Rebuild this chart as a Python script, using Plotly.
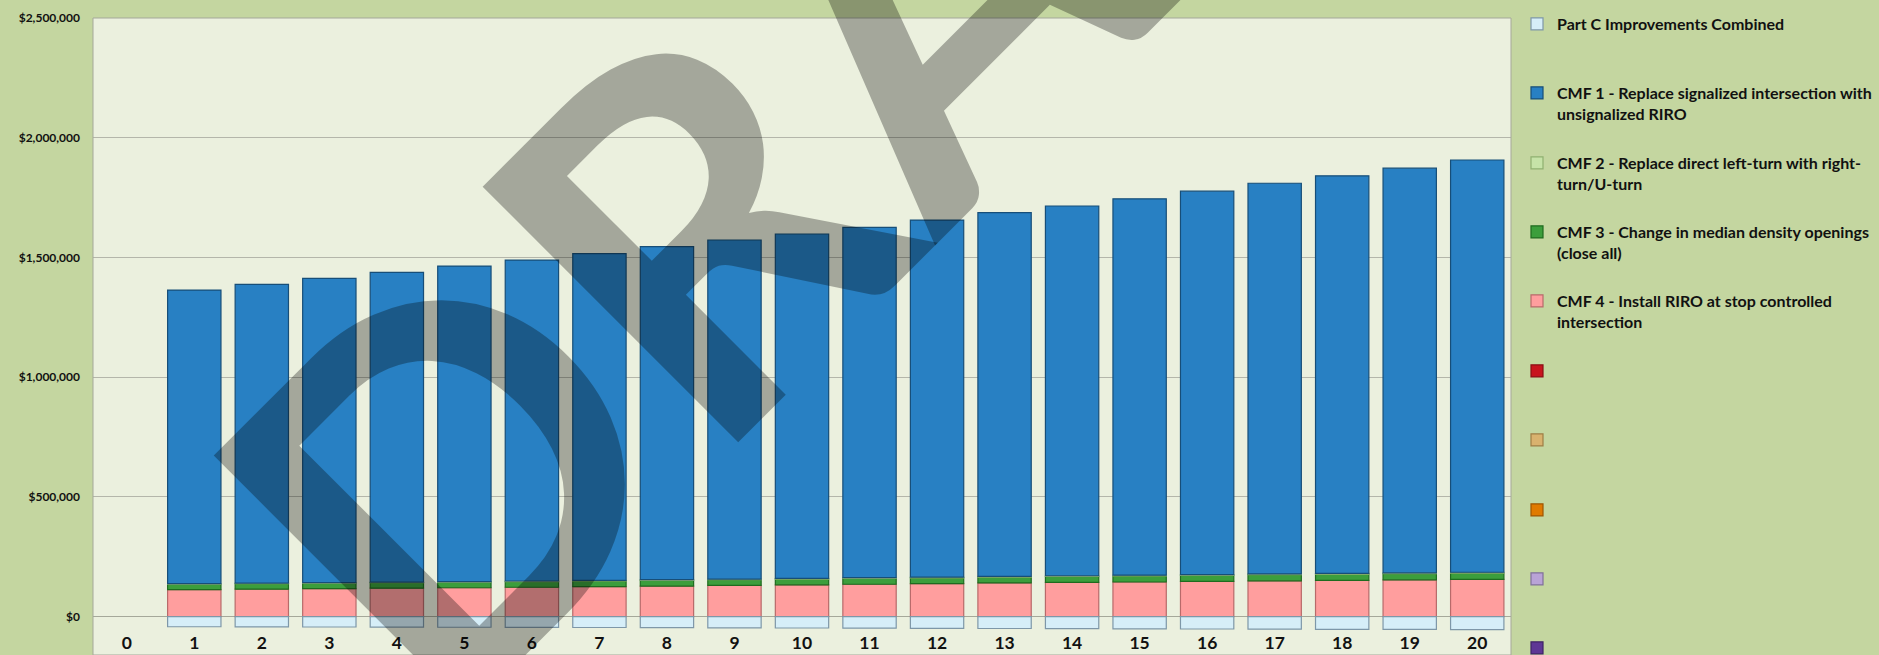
import plotly.graph_objects as go

# Analysis years and per-improvement annual benefit values ($)
years = list(range(1, 21))
year_ticks = list(range(0, 21))

part_c_combined = [-42000, -42500, -43000, -43500, -44000, -44500, -45000, -45800, -46500, -47200,
                   -47900, -48600, -49300, -50000, -50700, -51400, -52000, -52600, -53200, -53800]
cmf1_riro_signal = [1225900, 1247750, 1270500, 1293250, 1317100, 1339850, 1364100, 1390350, 1415700, 1437950,
                    1463200, 1490450, 1518200, 1543950, 1571700, 1600950, 1631200, 1659950, 1689700, 1721400]
cmf2_left_turn = [2600, 2650, 2700, 2750, 2800, 2850, 2900, 2950, 3000, 3050,
                  3100, 3150, 3200, 3250, 3300, 3350, 3400, 3450, 3500, 3600]
cmf3_median = [22500, 22600, 22800, 23000, 23100, 23300, 23500, 23700, 23800, 24000,
               24200, 24400, 24600, 24800, 25000, 25200, 25400, 25600, 25800, 26000]
cmf4_riro_stop = [113000, 115000, 117000, 119000, 121000, 123000, 125500, 128000, 130500, 133000,
                  135500, 138000, 141000, 143000, 145000, 147500, 150000, 152000, 154000, 156000]

# unnamed series slots carry no values
blank_year = [0]
blank_value = [None]

names = {
    "partc": "Part C Improvements Combined",
    "cmf1": "CMF 1 - Replace signalized intersection with<br>unsignalized RIRO",
    "cmf2": "CMF 2 - Replace direct left-turn with right-<br>turn/U-turn",
    "cmf3": "CMF 3 - Change in median density openings<br>(close all)",
    "cmf4": "CMF 4 - Install RIRO at stop controlled<br>intersection",
}

W, H = 1879, 655
M_L, M_R, M_T, M_B = 93, 368, 18, 0
FONT = "Lato"
TXT = "#111111"

fig = go.Figure()

# legend slot per series (evenly spaced entries on the right)
legend_rows = [24, 93, 163, 232, 301, 371, 440, 510, 579, 648]
LEG_X = 1517
LEG_TOP_OFFSET = 17


def leg_name(i):
    return "legend" if i == 0 else f"legend{i + 1}"


def bar(x, y, name, color, line, slot):
    return go.Bar(
        x=x, y=y, name=name,
        marker=dict(color=color, line=dict(color=line, width=1.2)),
        legend=leg_name(slot), showlegend=True,
    )


# stacked from the bottom up
fig.add_trace(bar(years, cmf4_riro_stop, names["cmf4"], "#FF9E9E", "#B86A6A", 4))
fig.add_trace(bar(years, cmf3_median, names["cmf3"], "#3C9E3C", "#1F6B1F", 3))
fig.add_trace(bar(years, cmf2_left_turn, names["cmf2"], "#C6E3A8", "#8FB070", 2))
fig.add_trace(bar(years, cmf1_riro_signal, names["cmf1"], "#2880C3", "#174E78", 1))
fig.add_trace(bar(years, part_c_combined, names["partc"], "#D6EEF8", "#7E97A8", 0))

empty_colors = [("#C8141E", "#8A0E14"), ("#D9B26E", "#9E7E45"), ("#E07A00", "#9E5500"),
                ("#B9A3D6", "#80709A"), ("#5E3795", "#3E2366")]
for k, (c, lc) in enumerate(empty_colors):
    fig.add_trace(bar(blank_year, blank_value, " ", c, lc, 5 + k))

legends = {}
for i, row in enumerate(legend_rows):
    legends[leg_name(i)] = dict(
        x=LEG_X / W, y=1 - (row - LEG_TOP_OFFSET) / H,
        xref="container", yref="container",
        xanchor="left", yanchor="top", valign="top",
        bgcolor="rgba(0,0,0,0)", borderwidth=0,
        font=dict(family=FONT, size=16, color=TXT, weight="bold"),
        visible=True,
    )

# watermark
fig.add_annotation(
    text="DRAFT", xref="paper", yref="paper", x=0.556, y=0.988,
    xanchor="center", yanchor="middle", showarrow=False, textangle=-45,
    font=dict(family=FONT, size=500, color="rgba(0,0,0,0.3)"),
)

# plot-area frame
fig.add_shape(type="rect", xref="x domain", yref="y domain", x0=0, x1=1, y0=0, y1=1,
              line=dict(color="#A5A89A", width=1), fillcolor="rgba(0,0,0,0)", layer="above")

fig.update_layout(
    width=W, height=H,
    margin=dict(l=M_L, r=M_R, t=M_T, b=M_B, pad=0),
    paper_bgcolor="#C4D6A0", plot_bgcolor="#EBF0DE",
    barmode="relative", bargap=0.21, showlegend=True,
    font=dict(family=FONT, color=TXT, weight="bold"),
    xaxis=dict(
        range=[-0.5, 20.5], tickmode="array", tickvals=year_ticks,
        ticktext=[str(v) for v in year_ticks],
        anchor="free", position=0.038, showline=False, showgrid=False, zeroline=False,
        ticks="", tickfont=dict(family=FONT, size=17.5, color=TXT, weight="bold"),
        automargin=False,
    ),
    yaxis=dict(
        range=[-159900, 2500000], tick0=0, dtick=500000,
        tickprefix="$", tickformat=",d", separatethousands=True,
        showgrid=True, gridcolor="#B4B6AA", gridwidth=1.2,
        zeroline=True, zerolinecolor="#A5A89A", zerolinewidth=1.2,
        showline=False, ticks="", ticklabelstandoff=12,
        tickfont=dict(family=FONT, size=12, color=TXT, weight="bold"),
        automargin=False,
    ),
    **legends,
)

fig.write_html("out.html")
